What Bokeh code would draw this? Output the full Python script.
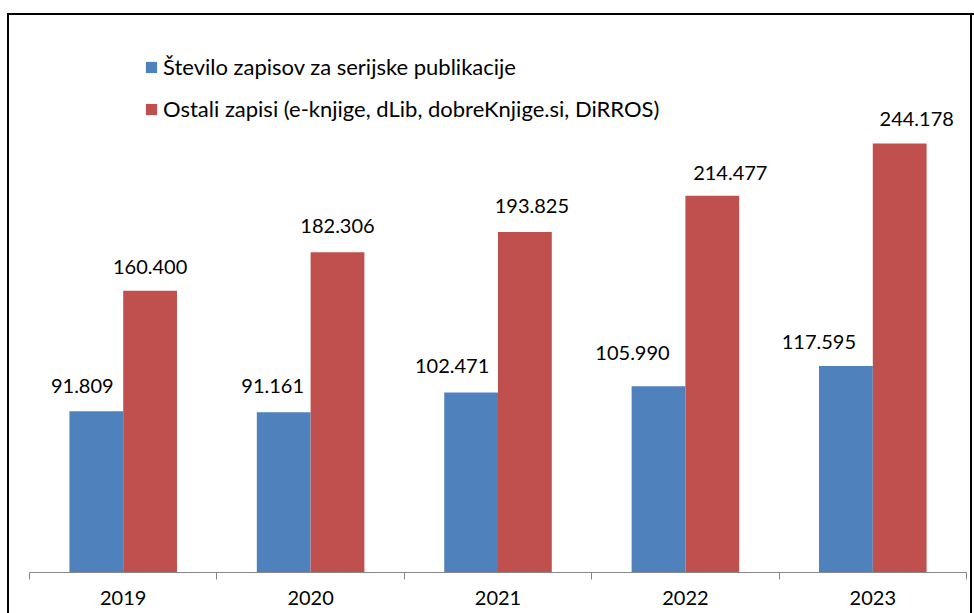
from bokeh.plotting import figure
from bokeh.models import ColumnDataSource, Range1d, FixedTicker, Legend, LegendItem
from bokeh.core.properties import value
from bokeh.embed import file_html
from bokeh.resources import INLINE

# ---- data ----
years = ["2019", "2020", "2021", "2022", "2023"]
serial_records = [91809, 91161, 102471, 105990, 117595]
other_records = [160400, 182306, 193825, 214477, 244178]
series_names = [
    "Število zapisov za serijske publikacije",
    "Ostali zapisi (e-knjige, dLib, dobreKnjige.si, DiRROS)",
]

# ---- style ----
BLUE = "#4F81BD"
RED = "#C0504D"
FONT = "Lato"
BAR_W = 0.287
SHIFT = 0.1435
# label nudges in pixels (style only)
blue_dx = [-14, -11, -19, -26, -27]
blue_dy = [-25, -26, -26, -33, -24]
red_dx = [0, 0, 7, 18, 17]
red_dy = [-24, -26, -26, -23, -25]


def fmt(v):
    return f"{v:,}".replace(",", ".")


centers = [i + 0.5 for i in range(len(years))]
src_blue = ColumnDataSource(dict(
    x=[c - SHIFT for c in centers], top=serial_records,
    label=[fmt(v) for v in serial_records], dx=blue_dx, dy=blue_dy))
src_red = ColumnDataSource(dict(
    x=[c + SHIFT for c in centers], top=other_records,
    label=[fmt(v) for v in other_records], dx=red_dx, dy=red_dy))

W, H = 974, 613
p = figure(width=W, height=H, output_backend="svg", toolbar_location=None,
           x_range=Range1d(0, len(years)), y_range=Range1d(0, 317090),
           min_border_left=29, min_border_right=8, min_border_top=15,
           min_border_bottom=41)
p.border_fill_color = None
p.background_fill_color = None
p.outline_line_color = None
p.grid.visible = False
p.yaxis.visible = False

border = ("linear-gradient(#000,#000) left 7px top 13px / 100% 2px no-repeat, "
          "linear-gradient(#000,#000) left 7px top 13px / 2px 100% no-repeat, "
          "linear-gradient(#000,#000) right 2px top 13px / 2px 100% no-repeat")
p.styles = {"background": border}

r_blue = p.vbar(x="x", top="top", width=BAR_W, source=src_blue,
                fill_color=BLUE, line_color=None)
r_red = p.vbar(x="x", top="top", width=BAR_W, source=src_red,
               fill_color=RED, line_color=None)

for src in (src_blue, src_red):
    p.text(x="x", y="top", text="label", source=src, x_offset="dx", y_offset="dy",
           text_align="center", text_baseline="middle",
           text_font=value(FONT), text_font_size="20px", text_color="black")

ax = p.xaxis[0]
ax.ticker = FixedTicker(ticks=centers, minor_ticks=list(range(len(years) + 1)))
ax.major_label_overrides = {c: y for c, y in zip(centers, years)}
ax.major_tick_line_color = None
ax.minor_tick_line_color = "#868686"
ax.minor_tick_in = 0
ax.minor_tick_out = 7
ax.axis_line_color = "#868686"
ax.axis_line_width = 1
ax.major_label_standoff = 11
ax.major_label_text_font = FONT
ax.major_label_text_font_style = "normal"
ax.major_label_text_font_size = "20px"
ax.major_label_text_color = "black"

legend = Legend(items=[LegendItem(label=series_names[0], renderers=[r_blue]),
                       LegendItem(label=series_names[1], renderers=[r_red])],
                location=(115, 450), orientation="vertical")
legend.label_text_font = FONT
legend.label_text_font_size = "22px"
legend.label_text_color = "black"
legend.glyph_width = 14
legend.glyph_height = 14
legend.label_standoff = 5
legend.padding = 0
legend.margin = 0
legend.spacing = 15
legend.border_line_color = None
legend.background_fill_alpha = 0
p.add_layout(legend)

open("out.html", "w").write(file_html(p, INLINE))
